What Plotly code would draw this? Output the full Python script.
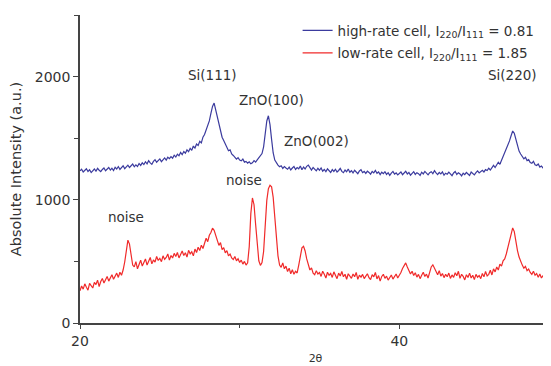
import numpy as np
import plotly.graph_objects as go

# 2-theta sample grid (deg)
two_theta = np.round(np.arange(20.0, 49.55, 0.1), 1)

high_rate = [
    1235, 1248, 1226, 1241, 1252, 1230, 1244, 1221, 1238, 1250,
    1232, 1255, 1240, 1228, 1246, 1258, 1236, 1249, 1262, 1241,
    1256, 1238, 1264, 1250, 1270, 1247, 1259, 1276, 1253, 1268,
    1281, 1262, 1274, 1290, 1268, 1283, 1271, 1295, 1279, 1300,
    1286, 1309, 1292, 1318, 1300, 1288, 1312, 1326, 1305, 1319,
    1332, 1310, 1328, 1340, 1322, 1345, 1334, 1351, 1338, 1362,
    1348, 1370, 1358, 1384, 1366, 1392, 1378, 1405, 1390, 1418,
    1402, 1436, 1420, 1452, 1441, 1475, 1462, 1508, 1530, 1566,
    1598, 1640, 1702, 1758, 1785, 1730, 1668, 1610, 1560, 1508,
    1482, 1450, 1428, 1398, 1405, 1372, 1360, 1348, 1330, 1342,
    1322, 1316, 1330, 1306, 1312, 1298, 1308, 1292, 1300, 1318,
    1306, 1324, 1340, 1352, 1375, 1430, 1528, 1640, 1682, 1610,
    1490, 1380, 1322, 1296, 1282, 1268, 1276, 1255, 1270, 1258,
    1248, 1265, 1242, 1258, 1270, 1246, 1262, 1252, 1275, 1244,
    1266, 1250, 1272, 1282, 1256, 1241, 1262, 1248, 1235, 1256,
    1240, 1258, 1232, 1246, 1228, 1251, 1237, 1222, 1245, 1230,
    1248, 1226, 1238, 1255, 1231, 1220, 1242, 1228, 1250, 1224,
    1236, 1218, 1240, 1228, 1212, 1234, 1245, 1220, 1230, 1214,
    1232, 1222, 1208, 1230, 1218, 1238, 1215, 1226, 1205, 1224,
    1212, 1228, 1206, 1220, 1198, 1216, 1230, 1208, 1218, 1202,
    1215, 1226, 1204, 1218, 1232, 1210, 1222, 1200, 1214, 1228,
    1206, 1220, 1212, 1198, 1224, 1210, 1230, 1214, 1202, 1220,
    1228, 1212, 1236, 1218, 1204, 1222, 1210, 1226, 1200, 1216,
    1208, 1224, 1212, 1196, 1218, 1230, 1206, 1220, 1210, 1194,
    1216, 1204, 1222, 1210, 1198, 1226, 1212, 1202, 1220, 1235,
    1218, 1228, 1240, 1226, 1245, 1238, 1256, 1242, 1265, 1280,
    1262, 1290, 1305, 1288, 1320, 1345, 1372, 1405, 1440, 1478,
    1520, 1558, 1540, 1486, 1430, 1395, 1372, 1350, 1332, 1345,
    1318, 1326, 1302, 1296, 1312, 1285, 1278, 1290, 1266, 1274,
    1258, 1266, 1245, 1252, 1236, 1230,
]

low_rate = [
    262, 300, 275, 318, 290, 266, 322, 305, 284, 330,
    312, 348, 296, 336, 362, 325, 350, 378, 340, 365,
    392, 355, 384, 405, 370, 412, 388, 430, 495, 590,
    672, 640, 548, 470, 455, 498, 440, 476, 510, 462,
    488, 520, 470, 505, 532, 480, 512, 495, 540, 508,
    525, 498, 545, 516, 532, 560, 510, 548, 528, 565,
    540, 572, 528, 556, 585, 548, 570, 535, 590, 562,
    578, 545, 600, 572, 615, 588, 632, 605, 650, 688,
    660, 712, 735, 770, 752, 705, 668, 630, 652, 595,
    612, 570, 588, 545, 560, 528, 515, 540, 505, 522,
    492, 510, 478, 500, 470, 488, 620, 890, 1015, 960,
    800, 610, 505, 468, 490, 580, 790, 995, 1090, 1118,
    1105, 1020, 860, 680, 545, 470, 452, 488, 440, 462,
    418, 445, 400, 432, 395, 420, 406, 470, 548, 610,
    622, 585, 520, 462, 430, 448, 405, 392, 425, 398,
    410, 378, 420, 395, 365, 412, 388, 402, 370, 415,
    392, 360, 405, 382, 418, 375, 396, 355, 400, 384,
    362, 398, 376, 410, 354, 388, 372, 395, 360, 380,
    400, 368, 352, 392, 375, 410, 358, 385, 340, 378,
    395, 362, 380, 348, 372, 390, 356, 375, 398, 365,
    385, 410, 442, 470, 488, 455, 430, 398, 420, 385,
    408, 372, 395, 360, 388, 412, 378, 396, 365, 420,
    455, 472, 440, 415, 392, 425, 380, 402, 368, 395,
    376, 405, 362, 390, 370, 408, 384, 420, 362, 395,
    378, 350, 392, 370, 405, 365, 388, 352, 395, 372,
    385, 360, 402, 375, 418, 382, 395, 428, 390, 440,
    415, 455, 430, 478, 462, 505, 520, 560, 610, 660,
    720, 772, 742, 660, 588, 535, 498, 470, 445, 460,
    425, 438, 410, 395, 420, 388, 402, 372, 398, 365,
    385, 350, 378, 340, 362, 330,
]

series_names = [
    "high-rate cell, I<sub>220</sub>/I<sub>111</sub> = 0.81",
    "low-rate cell, I<sub>220</sub>/I<sub>111</sub> = 1.85",
]

label_texts = ["Si(111)", "ZnO(100)", "ZnO(002)", "Si(220)", "noise", "noise"]
label_x = [28.3, 32.0, 34.8, 47.1, 22.9, 30.3]
label_y = [2010, 1810, 1480, 2010, 860, 1160]

FONT = "DejaVu Sans, Verdana, sans-serif"
TXT = "#333333"
AX = "#444444"

fig = go.Figure()
fig.add_trace(go.Scatter(x=two_theta, y=high_rate, mode="lines", name=series_names[0],
                         legendgroup="a", line=dict(color="#3b3b9e", width=1.2)))
fig.add_trace(go.Scatter(x=two_theta, y=low_rate, mode="lines", name=series_names[1],
                         legendgroup="b", line=dict(color="#f02a2a", width=1.2)))

for t, x, y in zip(label_texts, label_x, label_y):
    fig.add_annotation(x=x, y=y, text=t, showarrow=False,
                       font=dict(family=FONT, size=13.5, color=TXT))

# page body has an 8px default margin: figure is sized/offset to compensate
fig.update_layout(
    width=543, height=358,
    margin=dict(l=72, r=0, t=7, b=43),
    paper_bgcolor="white", plot_bgcolor="white",
    font=dict(family=FONT, size=14, color=TXT),
    showlegend=True,
    legend=dict(x=0.462, y=1.0, xanchor="left", yanchor="top",
                bgcolor="rgba(0,0,0,0)", font=dict(family=FONT, size=13.5, color=TXT),
                tracegroupgap=2),
    xaxis=dict(range=[20, 49.5], tick0=0, dtick=20, ticks="outside", ticklen=4,
               tickcolor=AX, showline=True, linecolor=AX, linewidth=1.5, showgrid=False,
               zeroline=False, tickfont=dict(size=14), automargin=False,
               minor=dict(dtick=10, ticks="outside", ticklen=3, tickcolor=AX),
               title=dict(text="2θ", font=dict(size=11), standoff=7)),
    yaxis=dict(range=[0, 2500], tick0=0, dtick=1000, ticks="outside", ticklen=5,
               tickcolor=AX, showline=True, linecolor=AX, linewidth=1.5, showgrid=False,
               zeroline=False, tickfont=dict(size=14), automargin=False,
               minor=dict(dtick=500, ticks="outside", ticklen=4, tickcolor=AX),
               title=dict(text="Absolute Intensity (a.u.)", font=dict(size=14.5), standoff=10)),
)

fig.write_html("out.html")
